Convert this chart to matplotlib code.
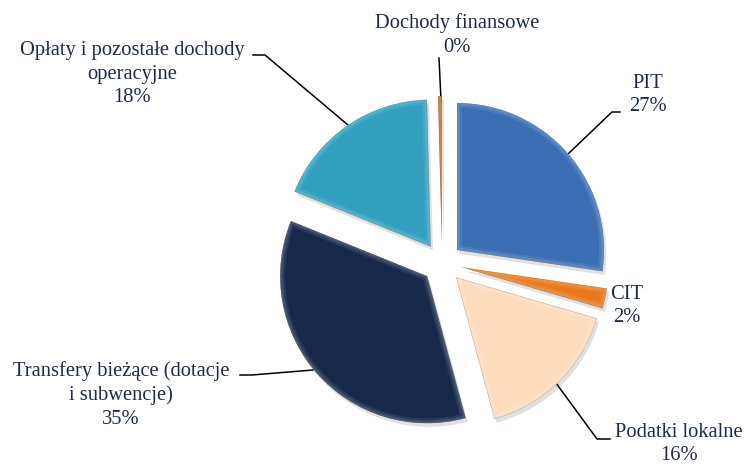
import matplotlib
matplotlib.use("Agg")
import matplotlib.pyplot as plt
from matplotlib.patches import Wedge
import numpy as np

# Revenue structure (percent shares)
categories = ["PIT", "CIT", "Podatki lokalne", "Transfery bieżące (dotacje\ni subwencje)",
              "Opłaty i pozostałe dochody\noperacyjne", "Dochody finansowe"]
shares = [27.2, 2.2, 16.2, 35.2, 18.4, 0.4]
colors = ["#3A6EB2", "#E8781A", "#FDDCBE", "#17294A", "#31A0BE", "#C0640F"]

W, H = 749, 466
CX, CY, R = 442, 263, 147  # pie centre and radius in pixels


def px(x, y):
    """Pixel position (origin top-left) to data coordinates."""
    return (x - CX) / R, (CY - y) / R


fig = plt.figure(figsize=(W / 100, H / 100), dpi=100)
ax = fig.add_axes([0, 0, 1, 1])
plt.rcParams["font.family"] = ["Liberation Serif", "DejaVu Serif"]
text_color = "#1C2B4A"

wedges, _ = ax.pie(shares, colors=colors, startangle=90, counterclock=False,
                   explode=[0.135] * len(shares), radius=1.0,
                   wedgeprops=dict(linewidth=0))

# soft drop shadow and bevelled rim for each slice
for w, c in zip(wedges, colors):
    cx, cy = w.center
    sh = Wedge((cx + 0.015, cy - 0.025), w.r, w.theta1, w.theta2,
               facecolor="#000000", alpha=0.12, linewidth=0, zorder=w.get_zorder() - 0.5)
    ax.add_patch(sh)
    for lw, a in [(7, 0.08), (4, 0.10), (1.5, 0.15)]:
        rim = Wedge(w.center, w.r, w.theta1, w.theta2, facecolor="none",
                    edgecolor="white", linewidth=lw, alpha=a, zorder=w.get_zorder() + 0.1)
        ax.add_patch(rim)
        rim.set_clip_path(w)
    dark = Wedge(w.center, w.r, w.theta1, w.theta2, facecolor="none",
                 edgecolor="black", linewidth=1.0, alpha=0.2, zorder=w.get_zorder() + 0.2)
    ax.add_patch(dark)
    dark.set_clip_path(w)

ax.set_xlim(-CX / R, (W - CX) / R)
ax.set_ylim((CY - H) / R, CY / R)
ax.set_aspect("auto")
ax.axis("off")

total = sum(shares)
pct = [f"{round(v / total * 100):d}%" for v in shares]

label_pos = [(648, 95), (627, 306), (679, 444), (121, 395), (132, 74), (457, 35)]
for name, p, (x, y) in zip(categories, pct, label_pos):
    ax.text(*px(x, y), f"{name}\n{p}", ha="center", va="center", multialignment="center",
            fontsize=14.8, color=text_color, linespacing=1.33)

leaders = [
    [(620, 112), (612, 112), (568, 154)],
    [(610, 439), (597, 439), (556, 383)],
    [(240, 375), (252, 375), (313, 370)],
    [(253, 55), (265, 55), (348, 125)],
    [(439, 58), (441, 100)],
]
for pts in leaders:
    xs, ys = zip(*[px(*q) for q in pts])
    ax.plot(xs, ys, color="black", linewidth=1.1, zorder=0.5)

fig.savefig("out.png", dpi=100)
